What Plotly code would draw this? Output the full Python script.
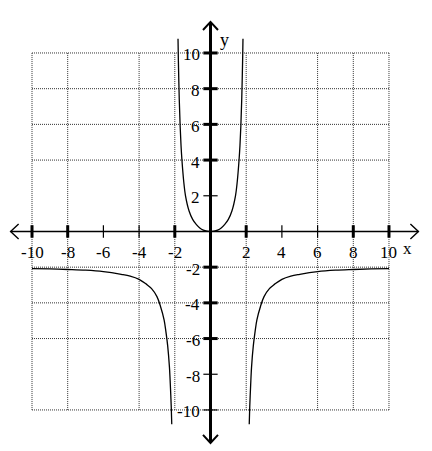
import plotly.graph_objects as go

# ---- data ----
inner_x = [-1.82, -1.8, -1.75, -1.7, -1.65, -1.6, -1.5, -1.4, -1.2, -1.0, -0.8, -0.6, -0.4, -0.2, 0.0,
           0.2, 0.4, 0.6, 0.8, 1.0, 1.2, 1.4, 1.5, 1.6, 1.65, 1.7, 1.75, 1.8, 1.82]
inner_y = [10.8, 9.6, 7.4, 5.9, 4.8, 4.0, 2.8, 2.0, 1.15, 0.68, 0.4, 0.2, 0.08, 0.02, 0.0,
           0.02, 0.08, 0.2, 0.4, 0.68, 1.15, 2.0, 2.8, 4.0, 4.8, 5.9, 7.4, 9.6, 10.8]
right_x = [2.17, 2.2, 2.25, 2.3, 2.4, 2.5, 2.6, 2.8, 3.0, 3.3, 3.6, 4.0, 4.5, 5.0, 6.0, 7.0, 8.0, 9.0, 10.0]
right_y = [-10.8, -9.8, -8.6, -7.6, -6.4, -5.6, -4.95, -4.2, -3.65, -3.2, -2.95, -2.68, -2.5, -2.4,
           -2.25, -2.17, -2.13, -2.1, -2.08]
left_x = [-v for v in right_x]
left_y = list(right_y)

x_tick_vals = [-10, -8, -6, -4, -2, 2, 4, 6, 8, 10]
x_tick_labels = ["-10", "-8", "-6", "-4", "-2", "2", "4", "6", "8", "10"]
x_tick_thick = [True, True, False, False, True, True, False, False, True, True]
y_tick_vals = [10, 8, 6, 4, 2, -2, -4, -6, -8, -10]
y_tick_labels = ["10", "8", "6", "4", "2", "-2", "-4", "-6", "-8", "-10"]
y_tick_thick = [True, True, True, True, False, True, True, True, False, False]
x_grid = [-10, -8, -4, -2, 2, 6, 8, 10]
y_grid = [10, 8, 6, 4, -2, -4, -6, -10]

FONT = "Liberation Serif"
GRID = dict(color="#333", width=1, dash="1px,1px")

fig = go.Figure()

shapes = []
# dotted grid
for gx in x_grid:
    shapes.append(dict(type="line", x0=gx, x1=gx, y0=-10, y1=10, line=GRID, layer="below"))
for gy in y_grid:
    shapes.append(dict(type="line", x0=-10, x1=10, y0=gy, y1=gy, line=GRID, layer="below"))
# axes
shapes.append(dict(type="line", x0=-11.2, x1=11.65, y0=0, y1=0, line=dict(color="black", width=1.6)))
shapes.append(dict(type="line", x0=0, x1=0, y0=-11.85, y1=11.74, line=dict(color="black", width=3)))
# ticks
for v, t in zip(x_tick_vals, x_tick_thick):
    shapes.append(dict(type="line", x0=v, x1=v, y0=-0.35, y1=0.35,
                       line=dict(color="black", width=3 if t else 1.2)))
for v, t in zip(y_tick_vals, y_tick_thick):
    shapes.append(dict(type="line", x0=-0.4, x1=0.4, y0=v, y1=v,
                       line=dict(color="black", width=3 if t else 1.2)))
# arrowheads (open chevrons)
shapes.append(dict(type="path", path="M -10.75,0.42 L -11.2,0 L -10.75,-0.42",
                   line=dict(color="black", width=1.4)))
shapes.append(dict(type="path", path="M 11.2,0.42 L 11.65,0 L 11.2,-0.42",
                   line=dict(color="black", width=1.4)))
shapes.append(dict(type="path", path="M -0.42,11.29 L 0,11.74 L 0.42,11.29",
                   line=dict(color="black", width=2)))
shapes.append(dict(type="path", path="M -0.42,-11.4 L 0,-11.85 L 0.42,-11.4",
                   line=dict(color="black", width=2)))

# curves
for xs, ys in [(inner_x, inner_y), (left_x, left_y), (right_x, right_y)]:
    fig.add_trace(go.Scatter(x=xs, y=ys, mode="lines", line=dict(color="black", width=1.3),
                             line_shape="spline", hoverinfo="skip", showlegend=False))

annotations = []
for v, lab in zip(x_tick_vals, x_tick_labels):
    annotations.append(dict(x=v, y=-1.2, text=lab, showarrow=False, xanchor="center", yanchor="middle",
                            font=dict(family=FONT, size=17, color="black")))
for v, lab in zip(y_tick_vals, y_tick_labels):
    annotations.append(dict(x=-0.45, y=v, text=lab, showarrow=False, xanchor="right", yanchor="middle",
                            yshift=-2, font=dict(family=FONT, size=17, color="black")))
annotations.append(dict(x=11.05, y=-0.95, text="x", showarrow=False, xanchor="center", yanchor="middle",
                        font=dict(family=FONT, size=17, color="black")))
annotations.append(dict(x=0.8, y=10.75, text="y", showarrow=False, xanchor="center", yanchor="middle",
                        font=dict(family=FONT, size=18, color="black")))

fig.update_layout(
    width=424, height=443,
    margin=dict(l=0, r=0, t=0, b=0),
    paper_bgcolor="white", plot_bgcolor="white",
    shapes=shapes, annotations=annotations,
    xaxis=dict(range=[-11.345, 12.41], visible=False, fixedrange=True),
    yaxis=dict(range=[-12.30, 12.52], visible=False, fixedrange=True),
)

fig.write_html("out.html")
